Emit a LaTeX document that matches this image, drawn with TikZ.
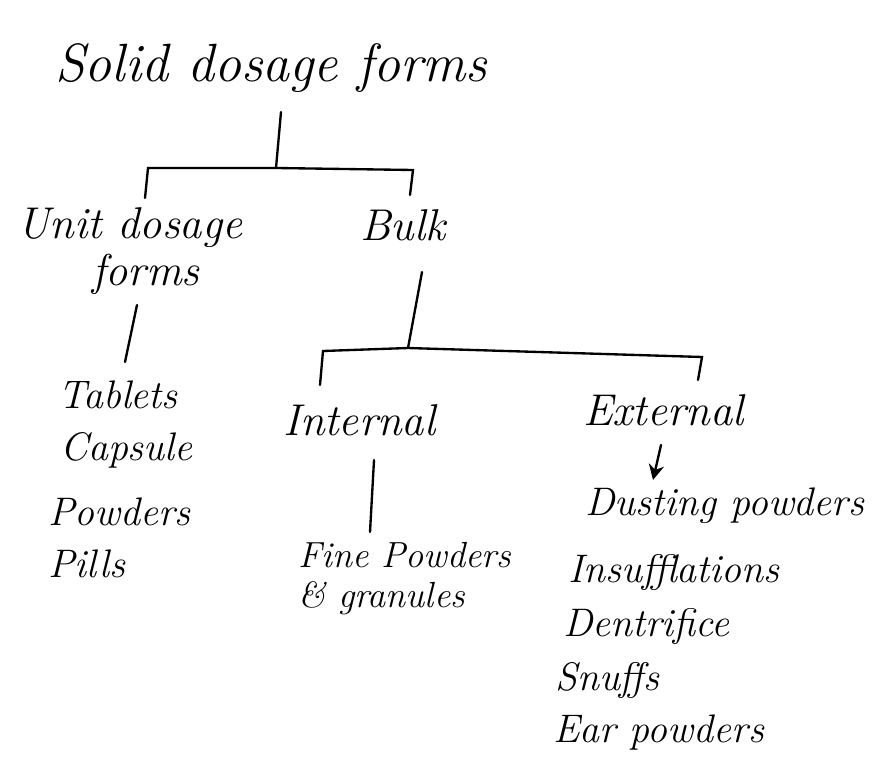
\documentclass[tikz,border=0pt]{standalone}
\usetikzlibrary{arrows.meta}
\begin{document}
\begin{tikzpicture}[x=0.03cm,y=-0.03cm,
  ink/.style={line width=2pt,line cap=round,black},
  lbl/.style={anchor=base west,inner sep=0pt,font=\itshape\fontsize{38}{40}\selectfont},
  ttl/.style={anchor=base west,inner sep=0pt,font=\itshape\fontsize{46}{50}\selectfont},
  itm/.style={anchor=base west,inner sep=0pt,font=\itshape\fontsize{34}{36}\selectfont},
  itms/.style={itm,font=\itshape\fontsize{31}{33}\selectfont}]
\useasboundingbox[fill=white] (0,0) rectangle (880,763);
% title
\node[ttl] (solid) at (55,82) {Solid dosage forms};
% level 1
\node[lbl] (unit) at (17,238) {Unit dosage};
\node[lbl] (unitf) at (92,285) {forms};
\node[lbl] (bulk) at (360,240) {Bulk};
% unit items
\node[itm] (tab) at (58,408) {Tablets};
\node[itm] (cap) at (60,460) {Capsule};
\node[itm] (pow) at (48,525) {Powders};
\node[itm] (pil) at (48,577) {Pills};
% level 2
\node[lbl] (int) at (283,435) {Internal};
\node[lbl] (ext) at (583,425) {External};
\node[itms] (fine) at (298,567) {Fine Powders};
\node[itms] (gran) at (298,607) {\& granules};
% external items
\node[itm] (dust) at (585,515) {Dusting powders};
\node[itm] (ins) at (568,582) {Insufflations};
\node[itm] (den) at (563,636) {Dentrifice};
\node[itm] (snu) at (555,690) {Snuffs};
\node[itm] (ear) at (553,742) {Ear powders};
% coordinates
\coordinate (s1) at (281,112);
\coordinate (j1) at (276,168);
\coordinate (bl) at (148,168);
\coordinate (br) at (413,170);
\coordinate (tl) at (145,198);
\coordinate (tr) at (410,195);
\coordinate (u1) at (137,305);
\coordinate (u2) at (125,362);
\coordinate (k1) at (422,272);
\coordinate (k2) at (408,348);
\coordinate (cl) at (323,351);
\coordinate (cr) at (702,357);
\coordinate (dl) at (320,385);
\coordinate (dr) at (698,380);
\coordinate (i1) at (374,460);
\coordinate (i2) at (370,532);
\coordinate (e1) at (661,445);
\coordinate (e2) at (653,480);
% connectors
\draw[ink] (s1) -- (j1);
\draw[ink] (tl) -- (bl) -- (j1) -- (br) -- (tr);
\draw[ink] (u1) -- (u2);
\draw[ink] (k1) -- (k2);
\draw[ink] (dl) -- (cl) -- (k2) -- (cr) -- (dr);
\draw[ink] (i1) -- (i2);
\draw[ink,-{Stealth[length=13pt,width=13pt]}] (e1) -- (e2);
\end{tikzpicture}
\end{document}
